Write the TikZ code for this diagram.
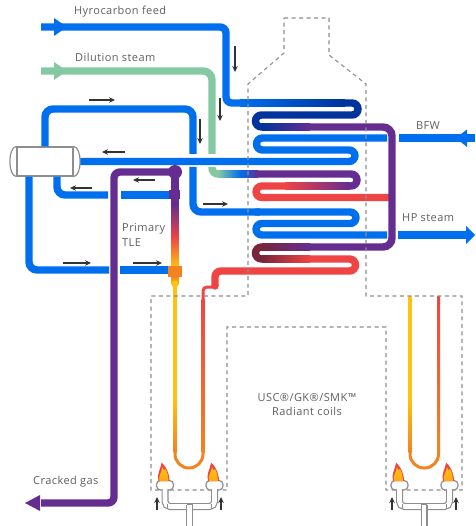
\documentclass[tikz,border=0pt]{standalone}
\usepackage{fontspec}
\setmainfont[LetterSpace=4]{Open Sans}
\usetikzlibrary{arrows.meta}
\definecolor{pblue}{HTML}{006FEE}
\definecolor{pgreen}{HTML}{85C9A3}
\definecolor{ppurple}{HTML}{652D90}
\definecolor{pred}{HTML}{EF4444}
\definecolor{porange}{HTML}{F58220}
\definecolor{pyellow}{HTML}{FFC20E}
\definecolor{pnavy}{HTML}{00339B}
\definecolor{pmaroon}{HTML}{78263C}
\definecolor{pgrey}{HTML}{8E8E8E}
\definecolor{ptext}{HTML}{5F5F5F}
\newcommand\hgrad[5]{\shade[left color=#4,right color=#5] ({#1},{#3-3.7}) rectangle ({#2},{#3+3.7});}
\newcommand\vgrad[6]{\shade[top color=#5,bottom color=#6] ({#1-#4/2},#2) rectangle ({#1+#4/2},#3);}
\newcommand\myflame[1]{\begin{scope}[shift={(#1,0)}]
\fill[pred] (-5,481) .. controls (-7,474) and (-3,470) .. (-2,462.5) .. controls (1,465) and (6,472) .. (6,481) -- cycle;
\shade[top color=pyellow,bottom color=pyellow!60!porange] (-4,481) .. controls (-5.5,476) and (-2,473) .. (-1,467) .. controls (0,471) and (1,470.5) .. (2,469) .. controls (4,473) and (5,476) .. (4.8,481) -- cycle;
\end{scope}}
\newcommand\myburner[3]{%
\foreach \hx in {#1,#3}{\filldraw[bur,fill=white,rounded corners=4pt] ({\hx-8.5},490) -- ({\hx-8.5},480.5) -- ({\hx+8.5},480.5) -- ({\hx+8.5},490) -- cycle;}
\draw[burpipe,rounded corners=5pt] (#1,489) -- (#1,506.5) -- (#3,506.5) -- (#3,489);
\draw[burpipe] (#2,504.5) -- (#2,530);
\draw[bur] ({#1+2.8},504) -- ({#1+2.8},509) ({#3-2.8},504) -- ({#3-2.8},509) ({#2-3},504) -- ({#2+3},504);
\myflame{#1-1.5}\myflame{#3-1.5}}
\tikzset{
 pipe/.style={line width=7.4pt,rounded corners=6pt},
 straight pipe/.style={line width=7.4pt},
 thin tube/.style={line width=3pt,rounded corners=14pt},
 flow/.style={draw=black!80,line width=1.2pt,-{Stealth[length=6pt,width=5.5pt]}},
 furnace/.style={draw=pgrey,line width=1.1pt,dash pattern=on 4pt off 3.5pt},
 bur/.style={draw=pgrey,line width=1.2pt},
 burpipe/.style={draw=pgrey,line width=1.2pt,double=white,double distance=4.6pt},
 lbl/.style={text=ptext,font=\fontsize{11}{14}\selectfont,inner sep=0pt,anchor=base west},
 lblc/.style={lbl,anchor=base},
}
\begin{document}
\begin{tikzpicture}[x=1pt,y=-1pt]
\useasboundingbox (0,0) rectangle (475,526);
\node[draw=pgrey,fill=white,line width=1.2pt,minimum width=56pt,minimum height=29pt,inner sep=0pt] (vessel) at (45,161.5) {};
% feed
\draw[pipe,pblue] (41,27) -- (226,27) -- (226,103) -- (240,103);
\fill[pblue] (54,18) -- (67,27) -- (54,36) -- cycle;
\hgrad{240}{345}{103}{pblue}{pnavy}
\draw[pipe,pnavy] (345,103) -- (358,103) -- (358,115) -- (255.5,115) -- (255.5,127) -- (262,127);
\hgrad{262}{310}{127}{pnavy}{ppurple}
% dilution steam
\draw[pipe,pgreen,rounded corners=9pt] (41,71) -- (212,71) -- (212,154);
\fill[pgreen] (54,62) -- (67,71) -- (54,80) -- cycle;
\draw[pipe,pgreen] (212,167) -- (212,174) -- (219,174);
\hgrad{218}{240}{174}{pgreen}{pblue}
\hgrad{240}{258}{174}{pblue}{ppurple}
\draw[pipe,ppurple] (258,174) -- (357,174) -- (357,186) -- (350,186);
\hgrad{285}{350}{186}{pred}{ppurple}
\draw[pipe,pred] (285,186) -- (256,186) -- (256,197.5) -- (389,197.5);
% BFW
\draw[straight pipe,pblue] (475,138) -- (399,138);
\fill[pblue] (467,129.5) -- (456,138) -- (467,147) -- cycle;
\draw[pipe,pblue] (387,138) -- (256.5,138) -- (256.5,150) -- (355,150) -- (355,161.5) -- (vessel.east -| 80,161.5);
% vessel loop
\draw[pipe,pblue,rounded corners=8pt] (vessel.north) -- (45,109) -- (193,109) -- (193,154);
\draw[pipe,pblue,rounded corners=8pt] (193,167) -- (193,212) -- (260,212);
\draw[pipe,pblue] (255,212) -- (356,212) -- (356,223.5) -- (256,223.5) -- (256,235) -- (387,235);
\draw[straight pipe,pblue] (398,235) -- (468,235);
\fill[pblue] (466,226) -- (475,235) -- (466,244) -- cycle;
% vessel bottom branches
\draw[pipe,pblue,rounded corners=8pt] (vessel.south -| 57,176) -- (57,195) -- (108,195);
\draw[straight pipe,pblue] (121,195) -- (170,195);
\draw[pipe,pblue,rounded corners=8pt] (vessel.south -| 29,176) -- (29,270) -- (109,270);
\draw[straight pipe,pblue] (120,270) -- (170,270);
% purple loop through convection section
\draw[pipe,ppurple,rounded corners=9pt] (309,127) -- (392,127) -- (392,247) -- (309,247);
\hgrad{262}{310}{247}{pmaroon}{ppurple}
\draw[pipe,pmaroon] (263,247) -- (255.5,247) -- (255.5,259) -- (263,259);
\hgrad{262}{310}{259}{pmaroon}{pred}
\draw[pipe,pred] (309,259) -- (355.5,259) -- (355.5,271) -- (215,271) -- (215,286);
\fill[pred] (215,286) circle[radius=3.7];
% primary TLE
\vgrad{175}{172}{205}{7.4}{ppurple}{ppurple}
\vgrad{175}{204}{238}{7.4}{ppurple}{pred}
\vgrad{175}{237}{267}{7.4}{pred}{pyellow}
\draw[pipe,ppurple] (175,172) -- (114,172) -- (114,503) -- (41,503);
\fill[ppurple] (40,495) -- (25,503) -- (40,511) -- cycle;
\node[circle,fill=ppurple,minimum size=14pt,inner sep=0pt] (drum) at (175,172) {};
\node[rectangle,fill=ppurple,minimum width=11pt,minimum height=9pt,inner sep=0pt] (cold) at (174.5,194.5) {};
\vgrad{175}{276}{284}{7}{porange}{pyellow}
\fill[pyellow] (175,284) circle[radius=3.5];
\node[rectangle,fill=porange,minimum width=14pt,minimum height=11pt,inner sep=0pt] (hot) at (175,271.5) {};
% radiant coils
\draw[line width=3pt,pred,rounded corners=4pt] (212,287) -- (203,287) -- (203,300);
\vgrad{175}{284}{400}{3}{pyellow}{pyellow}
\vgrad{175}{399}{452}{3}{pyellow}{porange}
\vgrad{203}{299}{452}{3}{pred}{porange}
\draw[thin tube,porange] (175,451) -- (175,468) -- (203,468) -- (203,451);
\vgrad{410}{296}{400}{3}{pyellow}{pyellow}
\vgrad{410}{399}{452}{3}{pyellow}{porange}
\vgrad{438.5}{296}{452}{3}{pred}{porange}
\draw[thin tube,porange] (410,451) -- (410,468) -- (438.5,468) -- (438.5,451);
% furnace outline
\draw[furnace] (284,18) -- (329,18) -- (329,55) -- (366,84) -- (366,296) -- (462,296) -- (462,490) -- (386,490) -- (386,327) -- (227,327) -- (227,490) -- (151,490) -- (151,296) -- (248,296) -- (248,84) -- (284,53) -- cycle;
% vessel caps
\draw[pgrey,line width=1.2pt] (vessel.north west) .. controls (7.7,147) and (7.7,176) .. (vessel.south west);
\draw[pgrey,line width=1.2pt] (vessel.north east) .. controls (82.3,147) and (82.3,176) .. (vessel.south east);
% burners
\myburner{165}{189.5}{214.5}
\myburner{399.5}{424}{449.5}
% flow arrows
\draw[flow] (89,100) -- (115,100);
\draw[flow] (235,46) -- (235,72);
\draw[flow] (220,98) -- (220,121);
\draw[flow] (200,119) -- (200,144);
\draw[flow] (125,152) -- (102,152);
\draw[flow] (155,180) -- (133,180);
\draw[flow] (92,188) -- (70,188);
\draw[flow] (203,204) -- (228,204);
\draw[flow] (133,263) -- (162,263);
\draw[flow] (63,263) -- (91,263);
\draw[flow] (157,510) -- (157,497);
\draw[flow] (221,510) -- (221,497);
\draw[flow] (392,510) -- (392,497);
\draw[flow] (456,510) -- (456,497);
% labels
\node[lbl] (feed) at (74,15) {Hyrocarbon feed};
\node[lbl] (steam) at (75,62) {Dilution steam};
\node[lblc] (bfw) at (428,130) {BFW};
\node[lbl] (hps) at (402,222) {HP steam};
\node[lbl] (tlea) at (122,232) {Primary};
\node[lbl] (tleb) at (122,246) {TLE};
\node[lblc] (coilsa) at (307,401) {USC®/GK®/SMK™};
\node[lblc] (coilsb) at (307,415) {Radiant coils};
\node[lbl] (gas) at (33,484) {Cracked gas};
\end{tikzpicture}
\end{document}
